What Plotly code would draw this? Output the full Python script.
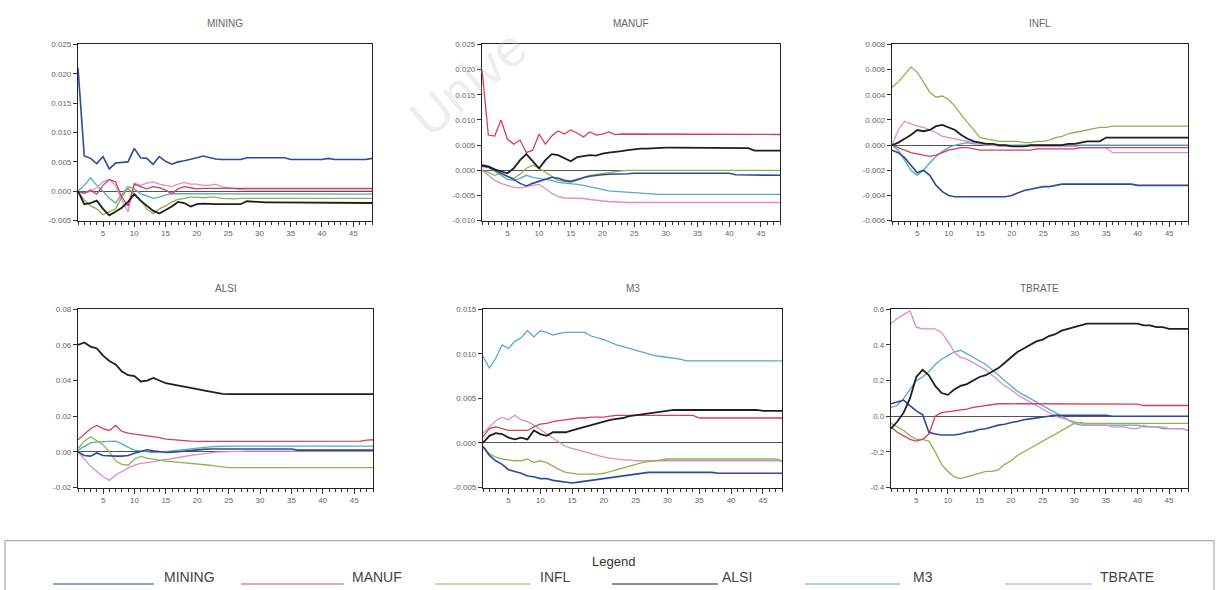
import plotly.graph_objects as go

W, H = 1219, 590

# ---------------- data ----------------
periods = list(range(1, 49))
shock_names = ["MINING", "MANUF", "INFL", "ALSI", "M3", "TBRATE"]
x_tick_vals = [5, 10, 15, 20, 25, 30, 35, 40, 45]

# Response of MINING
mining_MINING = [0.0210, 0.0060, 0.0056, 0.0047, 0.0059, 0.0038, 0.0048, 0.0049, 0.0050, 0.0073,
                 0.0057, 0.0056, 0.0046, 0.0059, 0.0051, 0.0046, 0.0050, 0.0052, 0.0054, 0.0057,
                 0.0060, 0.0057, 0.0055, 0.0054, 0.0054, 0.0054, 0.0054, 0.0057, 0.0057, 0.0057,
                 0.0057, 0.0057, 0.0057, 0.0057, 0.0054, 0.0054, 0.0054, 0.0054, 0.0054, 0.0054,
                 0.0056, 0.0054, 0.0054, 0.0054, 0.0054, 0.0054, 0.0054, 0.0056]
mining_MANUF = [0.0000, -0.0003, 0.0002, -0.0005, 0.0010, 0.0020, 0.0016, -0.0010, -0.0025, 0.0012,
                0.0008, 0.0004, 0.0008, 0.0006, 0.0002, -0.0004, 0.0004, 0.0008, 0.0006, 0.0004,
                0.0005, 0.0005, 0.0005, 0.0005, 0.0005, 0.0005, 0.0005, 0.0005, 0.0005, 0.0005,
                0.0005, 0.0005, 0.0005, 0.0005, 0.0005, 0.0005, 0.0005, 0.0005, 0.0005, 0.0005,
                0.0005, 0.0005, 0.0005, 0.0005, 0.0005, 0.0005, 0.0005, 0.0005]
mining_INFL = [0.0000, -0.0015, -0.0025, -0.0030, -0.0040, -0.0035, -0.0030, -0.0010, 0.0005, -0.0005,
               -0.0015, -0.0030, -0.0038, -0.0030, -0.0025, -0.0018, -0.0014, -0.0012, -0.0010, -0.0010,
               -0.0011, -0.0010, -0.0010, -0.0012, -0.0013, -0.0013, -0.0012, -0.0012, -0.0012, -0.0012,
               -0.0012, -0.0012, -0.0012, -0.0012, -0.0012, -0.0012, -0.0012, -0.0012, -0.0012, -0.0012,
               -0.0012, -0.0012, -0.0012, -0.0012, -0.0012, -0.0012, -0.0012, -0.0012]
mining_ALSI = [0.0000, -0.0022, -0.0020, -0.0016, -0.0030, -0.0041, -0.0035, -0.0028, -0.0018, -0.0005,
               -0.0016, -0.0025, -0.0033, -0.0038, -0.0032, -0.0026, -0.0018, -0.0020, -0.0026, -0.0022,
               -0.0021, -0.0022, -0.0022, -0.0022, -0.0022, -0.0022, -0.0022, -0.0017, -0.0018, -0.0019,
               -0.0019, -0.0019, -0.0019, -0.0019, -0.0019, -0.0019, -0.0019, -0.0019, -0.0019, -0.0019,
               -0.0019, -0.0019, -0.0019, -0.0019, -0.0019, -0.0019, -0.0020, -0.0020]
mining_M3 = [0.0000, 0.0010, 0.0023, 0.0010, 0.0000, -0.0012, -0.0020, -0.0006, 0.0008, 0.0004,
             -0.0004, -0.0008, -0.0012, -0.0010, -0.0006, -0.0004, -0.0004, -0.0005, -0.0005, -0.0005,
             -0.0005, -0.0005, -0.0005, -0.0005, -0.0005, -0.0005, -0.0005, -0.0005, -0.0005, -0.0005,
             -0.0005, -0.0005, -0.0005, -0.0005, -0.0005, -0.0005, -0.0005, -0.0005, -0.0005, -0.0005,
             -0.0005, -0.0005, -0.0005, -0.0005, -0.0005, -0.0005, -0.0005, -0.0005]
mining_TBRATE = [0.0000, -0.0004, 0.0000, 0.0006, 0.0016, 0.0020, 0.0010, -0.0015, -0.0035, 0.0014,
                 0.0010, 0.0014, 0.0016, 0.0012, 0.0010, 0.0008, 0.0012, 0.0015, 0.0012, 0.0012,
                 0.0010, 0.0010, 0.0012, 0.0008, 0.0006, 0.0004, 0.0003, 0.0002, 0.0002, 0.0002,
                 0.0002, 0.0002, 0.0002, 0.0002, 0.0002, 0.0002, 0.0002, 0.0002, 0.0002, 0.0002,
                 0.0002, 0.0002, 0.0002, 0.0002, 0.0002, 0.0002, 0.0002, 0.0002]

# Response of MANUF
manuf_MINING = [0.0008, 0.0006, 0.0000, -0.0006, -0.0012, -0.0018, -0.0026, -0.0031, -0.0026, -0.0022,
                -0.0018, -0.0014, -0.0016, -0.0020, -0.0022, -0.0018, -0.0015, -0.0012, -0.0010, -0.0009,
                -0.0008, -0.0008, -0.0007, -0.0007, -0.0006, -0.0006, -0.0006, -0.0006, -0.0006, -0.0006,
                -0.0006, -0.0006, -0.0006, -0.0006, -0.0006, -0.0006, -0.0006, -0.0006, -0.0006, -0.0006,
                -0.0009, -0.0009, -0.0010, -0.0010, -0.0010, -0.0010, -0.0010, -0.0010]
manuf_MANUF = [0.0200, 0.0070, 0.0068, 0.0100, 0.0062, 0.0052, 0.0060, 0.0035, 0.0040, 0.0072,
               0.0052, 0.0068, 0.0078, 0.0072, 0.0080, 0.0074, 0.0066, 0.0076, 0.0070, 0.0072,
               0.0076, 0.0071, 0.0072, 0.0072, 0.0071, 0.0071, 0.0072, 0.0072, 0.0071, 0.0071,
               0.0071, 0.0071, 0.0071, 0.0071, 0.0071, 0.0071, 0.0071, 0.0071, 0.0071, 0.0071,
               0.0071, 0.0071, 0.0071, 0.0071, 0.0071, 0.0071, 0.0071, 0.0071]
manuf_INFL = [0.0000, -0.0004, -0.0010, -0.0006, -0.0012, -0.0016, -0.0008, 0.0004, 0.0010, 0.0004,
              -0.0004, -0.0012, -0.0020, -0.0022, -0.0024, -0.0020, -0.0014, -0.0010, -0.0008, -0.0006,
              -0.0004, -0.0002, -0.0001, 0.0000, 0.0000, 0.0000, 0.0000, 0.0000, 0.0000, 0.0000,
              0.0000, 0.0000, 0.0000, 0.0000, 0.0000, 0.0000, 0.0000, 0.0000, 0.0000, 0.0000,
              0.0000, 0.0000, 0.0000, 0.0000, 0.0000, 0.0000, 0.0000, 0.0000]
manuf_ALSI = [0.0010, 0.0008, 0.0002, -0.0002, -0.0006, 0.0004, 0.0020, 0.0032, 0.0018, 0.0004,
              0.0020, 0.0032, 0.0030, 0.0024, 0.0018, 0.0026, 0.0028, 0.0030, 0.0029, 0.0033,
              0.0035, 0.0036, 0.0038, 0.0040, 0.0042, 0.0043, 0.0043, 0.0044, 0.0045, 0.0045,
              0.0045, 0.0045, 0.0045, 0.0045, 0.0045, 0.0045, 0.0045, 0.0045, 0.0045, 0.0045,
              0.0045, 0.0045, 0.0044, 0.0039, 0.0039, 0.0039, 0.0039, 0.0039]
manuf_M3 = [0.0010, 0.0006, -0.0002, -0.0010, -0.0018, -0.0020, -0.0016, -0.0010, -0.0014, -0.0016,
            -0.0018, -0.0020, -0.0024, -0.0025, -0.0026, -0.0028, -0.0030, -0.0033, -0.0036, -0.0039,
            -0.0041, -0.0042, -0.0043, -0.0044, -0.0045, -0.0046, -0.0047, -0.0048, -0.0048, -0.0048,
            -0.0048, -0.0048, -0.0048, -0.0048, -0.0048, -0.0048, -0.0048, -0.0048, -0.0048, -0.0048,
            -0.0048, -0.0048, -0.0048, -0.0048, -0.0048, -0.0048, -0.0048, -0.0048]
manuf_TBRATE = [0.0000, -0.0010, -0.0020, -0.0026, -0.0030, -0.0034, -0.0035, -0.0032, -0.0030, -0.0028,
                -0.0036, -0.0046, -0.0052, -0.0055, -0.0055, -0.0055, -0.0056, -0.0058, -0.0060, -0.0061,
                -0.0062, -0.0063, -0.0064, -0.0064, -0.0064, -0.0064, -0.0064, -0.0064, -0.0064, -0.0064,
                -0.0064, -0.0064, -0.0064, -0.0064, -0.0064, -0.0064, -0.0064, -0.0064, -0.0064, -0.0064,
                -0.0064, -0.0064, -0.0064, -0.0064, -0.0064, -0.0064, -0.0064, -0.0064]

# Response of INFL
infl_MINING = [-0.0004, -0.0006, -0.0010, -0.0016, -0.0022, -0.0020, -0.0024, -0.0032, -0.0037, -0.0040,
               -0.0041, -0.0041, -0.0041, -0.0041, -0.0041, -0.0041, -0.0041, -0.0041, -0.0041, -0.0040,
               -0.0038, -0.0036, -0.0035, -0.0034, -0.0033, -0.0033, -0.0032, -0.0031, -0.0031, -0.0031,
               -0.0031, -0.0031, -0.0031, -0.0031, -0.0031, -0.0031, -0.0031, -0.0031, -0.0031, -0.0032,
               -0.0032, -0.0032, -0.0032, -0.0032, -0.0032, -0.0032, -0.0032, -0.0032]
infl_MANUF = [0.0000, -0.0002, -0.0004, -0.0006, -0.0007, -0.0008, -0.0009, -0.0008, -0.0006, -0.0004,
              -0.0003, -0.0002, -0.0002, -0.0003, -0.0004, -0.0004, -0.0004, -0.0004, -0.0004, -0.0004,
              -0.0004, -0.0004, -0.0004, -0.0003, -0.0003, -0.0003, -0.0003, -0.0003, -0.0003, -0.0003,
              -0.0002, -0.0002, -0.0002, -0.0002, -0.0002, -0.0002, -0.0002, -0.0002, -0.0002, -0.0002,
              -0.0002, -0.0002, -0.0002, -0.0002, -0.0002, -0.0002, -0.0002, -0.0002]
infl_INFL = [0.0046, 0.0050, 0.0056, 0.0062, 0.0058, 0.0050, 0.0042, 0.0038, 0.0039, 0.0036,
             0.0031, 0.0024, 0.0018, 0.0012, 0.0006, 0.0005, 0.0004, 0.0003, 0.0003, 0.0003,
             0.0003, 0.0002, 0.0002, 0.0003, 0.0003, 0.0004, 0.0006, 0.0007, 0.0009, 0.0010,
             0.0011, 0.0012, 0.0013, 0.0014, 0.0014, 0.0015, 0.0015, 0.0015, 0.0015, 0.0015,
             0.0015, 0.0015, 0.0015, 0.0015, 0.0015, 0.0015, 0.0015, 0.0015]
infl_ALSI = [0.0000, 0.0002, 0.0005, 0.0008, 0.0012, 0.0011, 0.0012, 0.0015, 0.0016, 0.0014,
             0.0012, 0.0008, 0.0005, 0.0003, 0.0002, 0.0001, 0.0001, 0.0000, 0.0000, -0.0001,
             -0.0001, -0.0001, 0.0000, 0.0000, 0.0000, 0.0000, 0.0000, 0.0000, 0.0001, 0.0001,
             0.0002, 0.0003, 0.0003, 0.0003, 0.0006, 0.0006, 0.0006, 0.0006, 0.0006, 0.0006,
             0.0006, 0.0006, 0.0006, 0.0006, 0.0006, 0.0006, 0.0006, 0.0006]
infl_M3 = [0.0000, -0.0004, -0.0012, -0.0020, -0.0024, -0.0020, -0.0014, -0.0009, -0.0005, -0.0002,
           0.0000, 0.0001, 0.0002, 0.0001, 0.0001, 0.0000, 0.0000, 0.0000, 0.0000, 0.0000,
           0.0000, 0.0000, 0.0000, 0.0000, 0.0000, 0.0000, 0.0000, 0.0000, 0.0000, 0.0000,
           0.0000, 0.0000, 0.0000, 0.0000, 0.0000, 0.0000, 0.0000, 0.0000, 0.0000, 0.0000,
           0.0000, 0.0000, 0.0000, 0.0000, 0.0000, 0.0000, 0.0000, 0.0000]
infl_TBRATE = [0.0000, 0.0012, 0.0019, 0.0017, 0.0015, 0.0014, 0.0012, 0.0010, 0.0007, 0.0006,
               0.0005, 0.0004, 0.0003, 0.0002, 0.0001, 0.0000, 0.0000, -0.0001, -0.0001, -0.0001,
               -0.0001, -0.0001, -0.0001, -0.0001, -0.0001, -0.0001, -0.0001, -0.0001, -0.0001, -0.0001,
               -0.0002, -0.0002, -0.0002, -0.0002, -0.0002, -0.0006, -0.0006, -0.0006, -0.0006, -0.0006,
               -0.0006, -0.0006, -0.0006, -0.0006, -0.0006, -0.0006, -0.0006, -0.0006]

# Response of ALSI
alsi_MINING = [0.0000, -0.0020, -0.0024, -0.0006, -0.0020, -0.0024, -0.0024, -0.0024, -0.0020, -0.0008,
               0.0004, 0.0012, 0.0006, 0.0000, -0.0004, -0.0002, 0.0002, 0.0006, 0.0008, 0.0012,
               0.0014, 0.0016, 0.0016, 0.0016, 0.0016, 0.0016, 0.0016, 0.0016, 0.0016, 0.0016,
               0.0016, 0.0016, 0.0016, 0.0016, 0.0016, 0.0010, 0.0010, 0.0010, 0.0010, 0.0010,
               0.0010, 0.0010, 0.0010, 0.0010, 0.0010, 0.0010, 0.0010, 0.0010]
alsi_MANUF = [0.0068, 0.0100, 0.0130, 0.0148, 0.0130, 0.0120, 0.0148, 0.0115, 0.0105, 0.0100,
              0.0095, 0.0092, 0.0088, 0.0080, 0.0072, 0.0068, 0.0064, 0.0062, 0.0060, 0.0059,
              0.0059, 0.0062, 0.0060, 0.0059, 0.0059, 0.0058, 0.0058, 0.0058, 0.0058, 0.0058,
              0.0058, 0.0058, 0.0058, 0.0058, 0.0058, 0.0058, 0.0062, 0.0062, 0.0062, 0.0062,
              0.0062, 0.0062, 0.0062, 0.0062, 0.0060, 0.0060, 0.0066, 0.0068]
alsi_INFL = [0.0020, 0.0060, 0.0085, 0.0060, 0.0040, 0.0000, -0.0050, -0.0070, -0.0075, -0.0040,
             -0.0025, -0.0035, -0.0042, -0.0048, -0.0052, -0.0055, -0.0058, -0.0060, -0.0063, -0.0066,
             -0.0070, -0.0075, -0.0080, -0.0085, -0.0088, -0.0088, -0.0088, -0.0088, -0.0088, -0.0088,
             -0.0088, -0.0088, -0.0088, -0.0088, -0.0088, -0.0088, -0.0088, -0.0088, -0.0088, -0.0088,
             -0.0088, -0.0088, -0.0088, -0.0088, -0.0088, -0.0088, -0.0088, -0.0088]
alsi_ALSI = [0.0600, 0.0614, 0.0590, 0.0580, 0.0540, 0.0510, 0.0490, 0.0450, 0.0430, 0.0425,
             0.0395, 0.0400, 0.0415, 0.0400, 0.0385, 0.0378, 0.0372, 0.0368, 0.0360, 0.0352,
             0.0345, 0.0338, 0.0330, 0.0325, 0.0324, 0.0324, 0.0324, 0.0324, 0.0324, 0.0324,
             0.0320, 0.0320, 0.0320, 0.0320, 0.0320, 0.0320, 0.0320, 0.0324, 0.0324, 0.0324,
             0.0324, 0.0324, 0.0324, 0.0324, 0.0324, 0.0324, 0.0324, 0.0324]
alsi_M3 = [0.0010, 0.0030, 0.0050, 0.0056, 0.0058, 0.0058, 0.0060, 0.0045, 0.0025, 0.0010,
           0.0005, 0.0000, -0.0004, -0.0002, 0.0002, 0.0006, 0.0010, 0.0014, 0.0018, 0.0022,
           0.0025, 0.0028, 0.0030, 0.0032, 0.0032, 0.0032, 0.0032, 0.0032, 0.0032, 0.0032,
           0.0032, 0.0032, 0.0032, 0.0032, 0.0032, 0.0032, 0.0032, 0.0032, 0.0032, 0.0032,
           0.0032, 0.0032, 0.0032, 0.0032, 0.0032, 0.0032, 0.0032, 0.0032]
alsi_TBRATE = [0.0000, -0.0040, -0.0080, -0.0110, -0.0140, -0.0160, -0.0130, -0.0110, -0.0090, -0.0075,
               -0.0065, -0.0060, -0.0055, -0.0050, -0.0044, -0.0038, -0.0032, -0.0026, -0.0020, -0.0015,
               -0.0010, -0.0006, -0.0002, 0.0000, 0.0002, 0.0004, 0.0004, 0.0004, 0.0004, 0.0004,
               0.0004, 0.0004, 0.0004, 0.0004, 0.0004, 0.0004, 0.0004, 0.0004, 0.0004, 0.0004,
               0.0004, 0.0004, 0.0004, 0.0004, 0.0004, 0.0004, 0.0004, 0.0004]

# Response of M3
m3_MINING = [-0.0004, -0.0014, -0.0020, -0.0024, -0.0030, -0.0032, -0.0034, -0.0037, -0.0038, -0.0040,
             -0.0040, -0.0042, -0.0043, -0.0044, -0.0045, -0.0044, -0.0043, -0.0042, -0.0041, -0.0040,
             -0.0039, -0.0038, -0.0037, -0.0036, -0.0035, -0.0034, -0.0033, -0.0033, -0.0033, -0.0033,
             -0.0033, -0.0033, -0.0033, -0.0033, -0.0033, -0.0033, -0.0033, -0.0034, -0.0034, -0.0034,
             -0.0034, -0.0034, -0.0034, -0.0034, -0.0034, -0.0034, -0.0034, -0.0034]
m3_MANUF = [0.0007, 0.0016, 0.0018, 0.0016, 0.0014, 0.0014, 0.0014, 0.0014, 0.0018, 0.0021,
            0.0022, 0.0024, 0.0025, 0.0026, 0.0027, 0.0028, 0.0028, 0.0029, 0.0029, 0.0029,
            0.0030, 0.0031, 0.0031, 0.0031, 0.0031, 0.0031, 0.0031, 0.0031, 0.0031, 0.0031,
            0.0031, 0.0031, 0.0031, 0.0031, 0.0028, 0.0028, 0.0028, 0.0028, 0.0028, 0.0028,
            0.0028, 0.0028, 0.0028, 0.0028, 0.0028, 0.0028, 0.0028, 0.0028]
m3_INFL = [-0.0004, -0.0012, -0.0016, -0.0018, -0.0019, -0.0020, -0.0020, -0.0018, -0.0022, -0.0020,
           -0.0022, -0.0026, -0.0030, -0.0033, -0.0034, -0.0035, -0.0035, -0.0035, -0.0035, -0.0034,
           -0.0032, -0.0030, -0.0028, -0.0026, -0.0024, -0.0022, -0.0021, -0.0020, -0.0019, -0.0018,
           -0.0018, -0.0018, -0.0018, -0.0018, -0.0018, -0.0018, -0.0018, -0.0018, -0.0018, -0.0018,
           -0.0018, -0.0018, -0.0018, -0.0018, -0.0018, -0.0018, -0.0018, -0.0020]
m3_ALSI = [0.0000, 0.0008, 0.0011, 0.0010, 0.0006, 0.0004, 0.0006, 0.0004, 0.0014, 0.0010,
           0.0008, 0.0012, 0.0012, 0.0012, 0.0014, 0.0016, 0.0018, 0.0020, 0.0022, 0.0024,
           0.0026, 0.0027, 0.0028, 0.0030, 0.0031, 0.0032, 0.0033, 0.0034, 0.0035, 0.0036,
           0.0037, 0.0037, 0.0037, 0.0037, 0.0037, 0.0037, 0.0037, 0.0037, 0.0037, 0.0037,
           0.0037, 0.0037, 0.0037, 0.0037, 0.0036, 0.0036, 0.0036, 0.0036]
m3_M3 = [0.0097, 0.0084, 0.0095, 0.0110, 0.0106, 0.0114, 0.0118, 0.0126, 0.0119, 0.0126,
         0.0124, 0.0121, 0.0123, 0.0124, 0.0124, 0.0124, 0.0124, 0.0120, 0.0118, 0.0116,
         0.0113, 0.0110, 0.0108, 0.0106, 0.0104, 0.0102, 0.0100, 0.0098, 0.0097, 0.0096,
         0.0095, 0.0094, 0.0092, 0.0092, 0.0092, 0.0092, 0.0092, 0.0092, 0.0092, 0.0092,
         0.0092, 0.0092, 0.0092, 0.0092, 0.0092, 0.0092, 0.0092, 0.0092]
m3_TBRATE = [0.0011, 0.0018, 0.0025, 0.0029, 0.0026, 0.0031, 0.0026, 0.0024, 0.0020, 0.0015,
             0.0010, 0.0005, 0.0000, -0.0004, -0.0006, -0.0008, -0.0010, -0.0012, -0.0014, -0.0016,
             -0.0017, -0.0018, -0.0019, -0.0019, -0.0020, -0.0020, -0.0020, -0.0020, -0.0020, -0.0020,
             -0.0020, -0.0020, -0.0020, -0.0020, -0.0020, -0.0020, -0.0020, -0.0020, -0.0020, -0.0020,
             -0.0020, -0.0020, -0.0020, -0.0020, -0.0020, -0.0020, -0.0020, -0.0020]

# Response of TBRATE
tb_MINING = [0.07, 0.08, 0.09, 0.06, 0.03, 0.01, -0.09, -0.10, -0.105, -0.105,
             -0.105, -0.10, -0.09, -0.085, -0.075, -0.07, -0.06, -0.05, -0.045, -0.035,
             -0.03, -0.02, -0.015, -0.01, -0.005, 0.0, 0.005, 0.005, 0.005, 0.005,
             0.005, 0.005, 0.005, 0.005, 0.005, 0.0, 0.0, 0.0, 0.0, 0.0,
             0.0, 0.0, 0.0, 0.0, 0.0, 0.0, 0.0, 0.0]
tb_MANUF = [-0.06, -0.09, -0.11, -0.13, -0.14, -0.13, -0.10, 0.00, 0.02, 0.025,
            0.03, 0.035, 0.04, 0.05, 0.055, 0.06, 0.065, 0.07, 0.07, 0.07,
            0.07, 0.072, 0.072, 0.072, 0.072, 0.072, 0.072, 0.072, 0.072, 0.072,
            0.072, 0.068, 0.068, 0.068, 0.068, 0.068, 0.068, 0.068, 0.068, 0.068,
            0.06, 0.06, 0.06, 0.06, 0.06, 0.06, 0.06, 0.06]
tb_INFL = [-0.04, -0.06, -0.08, -0.11, -0.13, -0.13, -0.14, -0.20, -0.27, -0.31,
           -0.34, -0.35, -0.34, -0.33, -0.32, -0.31, -0.31, -0.30, -0.27, -0.25,
           -0.22, -0.20, -0.18, -0.16, -0.14, -0.12, -0.10, -0.08, -0.06, -0.04,
           -0.035, -0.04, -0.04, -0.04, -0.04, -0.04, -0.04, -0.04, -0.04, -0.04,
           -0.04, -0.04, -0.04, -0.04, -0.04, -0.04, -0.04, -0.04]
tb_ALSI = [-0.07, -0.03, 0.02, 0.10, 0.22, 0.26, 0.23, 0.17, 0.13, 0.12,
           0.15, 0.17, 0.18, 0.20, 0.22, 0.23, 0.25, 0.27, 0.30, 0.33,
           0.36, 0.38, 0.40, 0.42, 0.43, 0.45, 0.46, 0.48, 0.49, 0.50,
           0.51, 0.52, 0.52, 0.52, 0.52, 0.52, 0.52, 0.52, 0.52, 0.52,
           0.51, 0.51, 0.50, 0.50, 0.49, 0.49, 0.49, 0.49]
tb_M3 = [0.05, 0.06, 0.10, 0.15, 0.20, 0.22, 0.25, 0.29, 0.32, 0.34,
         0.36, 0.37, 0.35, 0.33, 0.31, 0.29, 0.26, 0.23, 0.20, 0.17,
         0.14, 0.12, 0.10, 0.08, 0.06, 0.04, 0.02, 0.00, -0.02, -0.04,
         -0.05, -0.05, -0.05, -0.05, -0.05, -0.05, -0.05, -0.05, -0.05, -0.05,
         -0.06, -0.06, -0.06, -0.07, -0.07, -0.07, -0.07, -0.08]
tb_TBRATE = [0.52, 0.55, 0.57, 0.59, 0.50, 0.49, 0.49, 0.49, 0.47, 0.42,
             0.36, 0.33, 0.32, 0.30, 0.28, 0.26, 0.23, 0.20, 0.17, 0.15,
             0.12, 0.10, 0.08, 0.06, 0.04, 0.02, 0.00, -0.01, -0.02, -0.03,
             -0.04, -0.05, -0.05, -0.05, -0.05, -0.06, -0.06, -0.06, -0.07, -0.07,
             -0.05, -0.06, -0.06, -0.06, -0.07, -0.07, -0.07, -0.08]

# y-axis ticks per panel
mining_yticks = [-0.005, 0.0, 0.005, 0.010, 0.015, 0.020, 0.025]
manuf_yticks = [-0.010, -0.005, 0.0, 0.005, 0.010, 0.015, 0.020, 0.025]
infl_yticks = [-0.006, -0.004, -0.002, 0.0, 0.002, 0.004, 0.006, 0.008]
alsi_yticks = [-0.02, 0.0, 0.02, 0.04, 0.06, 0.08]
m3_yticks = [-0.005, 0.0, 0.005, 0.010, 0.015]
tb_yticks = [-0.4, -0.2, 0.0, 0.2, 0.4, 0.6]

# ---------------- styling ----------------
colors = ["#2d4b9e", "#d2405e", "#8db24e", "#1f1f1f", "#58a9c6", "#d890c8"]
widths = [1.6, 1.3, 1.3, 1.8, 1.3, 1.3]
FONT = "Liberation Sans, Arial, sans-serif"

panels = [
    ("MINING", [mining_MINING, mining_MANUF, mining_INFL, mining_ALSI, mining_M3, mining_TBRATE],
     mining_yticks, "{:.3f}", (78, 372, 41, 220)),
    ("MANUF", [manuf_MINING, manuf_MANUF, manuf_INFL, manuf_ALSI, manuf_M3, manuf_TBRATE],
     manuf_yticks, "{:.3f}", (482, 780, 41, 220)),
    ("INFL", [infl_MINING, infl_MANUF, infl_INFL, infl_ALSI, infl_M3, infl_TBRATE],
     infl_yticks, "{:.3f}", (892, 1188, 41, 220)),
    ("ALSI", [alsi_MINING, alsi_MANUF, alsi_INFL, alsi_ALSI, alsi_M3, alsi_TBRATE],
     alsi_yticks, "{:.2f}", (78, 373, 310, 491)),
    ("M3", [m3_MINING, m3_MANUF, m3_INFL, m3_ALSI, m3_M3, m3_TBRATE],
     m3_yticks, "{:.3f}", (483, 782, 310, 491)),
    ("TBRATE", [tb_MINING, tb_MANUF, tb_INFL, tb_ALSI, tb_M3, tb_TBRATE],
     tb_yticks, "{:.1f}", (891, 1188, 310, 491)),
]


def px(xp):
    return xp / W


def py(yp):
    return 1 - yp / H


fig = go.Figure()
annotations = []
shapes = []
layout_axes = {}

draw_order = [4, 5, 2, 1, 0, 3]  # light lines first, dark on top
for i, (title, series, yt, fmt, box) in enumerate(panels):
    n = i + 1
    xa = "x" if n == 1 else f"x{n}"
    ya = "y" if n == 1 else f"y{n}"
    xkey = "xaxis" if n == 1 else f"xaxis{n}"
    ykey = "yaxis" if n == 1 else f"yaxis{n}"
    l, r, t, b = box
    for k in draw_order:
        fig.add_trace(go.Scatter(
            x=periods, y=series[k], mode="lines", xaxis=xa, yaxis=ya,
            line=dict(color=colors[k], width=widths[k]),
            showlegend=False, name=shock_names[k], hoverinfo="skip"))
    layout_axes[xkey] = dict(
        domain=[px(l), px(r)], anchor=ya, range=[1, 48],
        tickmode="array", tickvals=x_tick_vals, ticktext=[str(v) for v in x_tick_vals],
        ticks="outside", ticklen=5, tickwidth=1, tickcolor="#333",
        minor=dict(tickmode="linear", tick0=0, dtick=1, ticks="outside", ticklen=3,
                   tickwidth=1, tickcolor="#333"),
        showline=True, mirror=True, linecolor="#222", linewidth=1.2,
        showgrid=False, zeroline=False,
        tickfont=dict(family=FONT, size=8, color="#666"), fixedrange=True)
    layout_axes[ykey] = dict(
        domain=[py(b), py(t)], anchor=xa, range=[yt[0], yt[-1]],
        tickmode="array", tickvals=yt, ticktext=[fmt.format(v) for v in yt],
        ticks="outside", ticklen=4, tickwidth=1, tickcolor="#333",
        showline=True, mirror=True, linecolor="#222", linewidth=1.2,
        showgrid=False, zeroline=True, zerolinecolor="#555", zerolinewidth=1,
        tickfont=dict(family=FONT, size=8, color="#666"), fixedrange=True)
    annotations.append(dict(
        text=title, x=px((l + r) / 2), y=py(t - 21), xref="paper", yref="paper",
        showarrow=False, font=dict(family=FONT, size=10, color="#666"),
        xanchor="center", yanchor="middle"))

# legend box (drawn as shapes + text)
shapes.append(dict(type="rect", xref="paper", yref="paper",
                   x0=px(5), x1=px(1214), y0=py(600), y1=py(545),
                   line=dict(color="#999", width=1), fillcolor="rgba(0,0,0,0)"))
annotations.append(dict(text="Legend", x=px(613), y=py(566), xref="paper", yref="paper",
                        showarrow=False, font=dict(family=FONT, size=13, color="#333"),
                        xanchor="center", yanchor="middle"))
legend_line_px = [(53, 154), (241, 344), (435, 530), (612, 718), (805, 900), (1005, 1092)]
legend_text_px = [162, 350, 538, 720, 911, 1098]
for k, name in enumerate(shock_names):
    x0, x1 = legend_line_px[k]
    shapes.append(dict(type="line", xref="paper", yref="paper",
                       x0=px(x0), x1=px(x1), y0=py(589), y1=py(589),
                       line=dict(color=colors[k], width=1.2)))
    annotations.append(dict(text=name, x=px(legend_text_px[k]), y=py(582), xref="paper",
                            yref="paper", showarrow=False, xanchor="left", yanchor="middle",
                            font=dict(family=FONT, size=14, color="#444")))

# faint watermark (visible part only)
annotations.append(dict(text="Unive", x=px(468), y=py(80), xref="paper", yref="paper",
                        showarrow=False, textangle=-40, xanchor="center", yanchor="middle",
                        font=dict(family=FONT, size=52, color="rgba(200,200,200,0.30)")))

fig.update_layout(
    width=W, height=H, margin=dict(l=0, r=0, t=0, b=0),
    paper_bgcolor="white", plot_bgcolor="white",
    showlegend=False, annotations=annotations, shapes=shapes,
    **layout_axes)

fig.write_html("out.html")
